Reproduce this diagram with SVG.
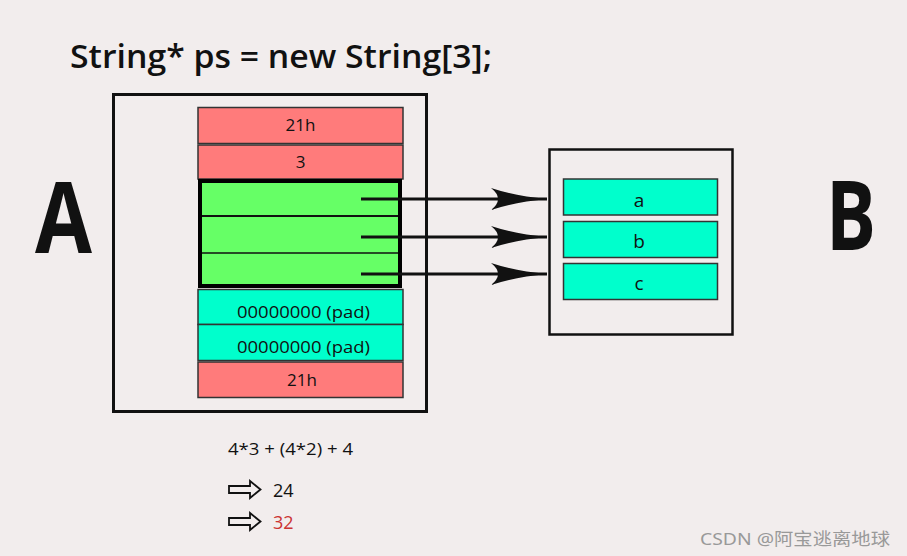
<svg xmlns="http://www.w3.org/2000/svg" width="907" height="556" viewBox="0 0 907 556">
<defs>
<style>
.t{font-family:"Open Sans","Noto Sans","DejaVu Sans",sans-serif;fill:#111;}
.cell{stroke:#333;stroke-width:1.5;}
.red{fill:#ff7b7b;}
.cyan{fill:#00ffcc;}
.green{fill:#66ff66;}
.frame{fill:none;stroke:#111;stroke-width:3;}
.conn{stroke:#111;stroke-width:3;fill:none;}
.ct{font-size:17px;text-anchor:middle;font-weight:500;}
</style>
<marker id="ah" markerUnits="userSpaceOnUse" markerWidth="60" markerHeight="26" viewBox="0 -13 60 26" refX="56" refY="0" orient="auto">
<path d="M56,0 Q24,-3 0,-11 Q14,0 0,11 Q24,3 56,0 Z" fill="#111"/>
</marker>
</defs>
<rect width="907" height="556" fill="#f2eded"/>
<text class="t" x="70" y="68" font-size="33" font-weight="600" textLength="422" lengthAdjust="spacingAndGlyphs">String* ps = new String[3];</text>
<text class="t" x="35" y="253" font-size="98" font-weight="bold" textLength="57" lengthAdjust="spacingAndGlyphs">A</text>
<text class="t" x="826" y="250" font-size="96" font-weight="bold" textLength="50" lengthAdjust="spacingAndGlyphs">B</text>
<g id="nodeA">
<rect class="frame" x="113.5" y="94.5" width="313" height="317"/>
<g id="cell1"><rect class="cell red" x="198" y="107.5" width="205" height="36"/><text class="t ct" x="300.5" y="131">21h</text></g>
<g id="cell2"><rect class="cell red" x="198" y="145" width="205" height="34"/><text class="t ct" x="300.5" y="168">3</text></g>
<g id="ptrs">
<rect class="green" x="200" y="181" width="200" height="105"/>
<line x1="200" y1="216" x2="400" y2="216" stroke="#111" stroke-width="2"/>
<line x1="200" y1="253" x2="400" y2="253" stroke="#111" stroke-width="1.5"/>
<rect x="200" y="181" width="200" height="105" fill="none" stroke="#000" stroke-width="4"/>
</g>
<g id="cell4"><rect class="cell cyan" x="198" y="289.5" width="205" height="35"/><text class="t ct" x="303.5" y="318" textLength="133" lengthAdjust="spacingAndGlyphs">00000000 (pad)</text></g>
<g id="cell5"><rect class="cell cyan" x="198" y="324.5" width="205" height="36"/><text class="t ct" x="303.5" y="353" textLength="133" lengthAdjust="spacingAndGlyphs">00000000 (pad)</text></g>
<g id="cell6"><rect class="cell red" x="198" y="362" width="205" height="35.5"/><text class="t ct" x="302" y="386">21h</text></g>
</g>
<g id="nodeB">
<rect x="549.5" y="149.5" width="183" height="185" fill="none" stroke="#111" stroke-width="2.5"/>
<g id="cellA"><rect class="cell cyan" x="563.5" y="179" width="154" height="36"/><text class="t" x="639" y="207" font-size="19" font-weight="500" text-anchor="middle">a</text></g>
<g id="cellB"><rect class="cell cyan" x="563.5" y="221.5" width="154" height="36"/><text class="t" x="639" y="248" font-size="19" font-weight="500" text-anchor="middle">b</text></g>
<g id="cellC"><rect class="cell cyan" x="563.5" y="263.5" width="154" height="36"/><text class="t" x="639" y="290" font-size="19" font-weight="500" text-anchor="middle">c</text></g>
</g>
<g id="connectors">
<line class="conn" x1="361" y1="199" x2="547" y2="199" marker-end="url(#ah)"/>
<line class="conn" x1="361" y1="237" x2="547" y2="237" marker-end="url(#ah)"/>
<line class="conn" x1="361" y1="274" x2="547" y2="274" marker-end="url(#ah)"/>
</g>
<g id="calc">
<text class="t" x="228" y="455" font-size="17" textLength="125" lengthAdjust="spacingAndGlyphs">4*3 + (4*2) + 4</text>
<polygon points="229,486 250,486 250,481 260.5,489.5 250,498 250,493 229,493" fill="none" stroke="#111" stroke-width="1.8"/>
<text class="t" x="273" y="497" font-size="18">24</text>
<polygon points="229,518 250,518 250,513 260.5,521.5 250,530 250,525 229,525" fill="none" stroke="#111" stroke-width="1.8"/>
<text class="t" x="273" y="529" font-size="18" style="fill:#cc3333">32</text>
</g>
<text x="700" y="545" font-size="17" fill="#999" font-family="Noto Sans, Noto Sans CJK SC, sans-serif" textLength="190" lengthAdjust="spacingAndGlyphs">CSDN @阿宝逃离地球</text>
</svg>
